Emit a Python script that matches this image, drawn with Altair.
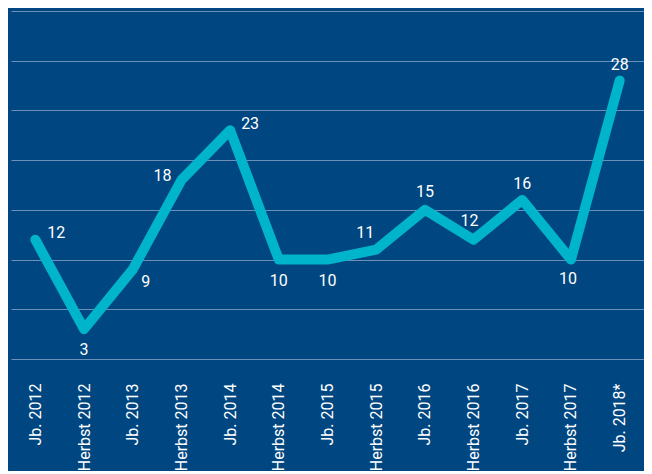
import altair as alt
import pandas as pd

# Data
periods = ["Jb. 2012", "Herbst 2012", "Jb. 2013", "Herbst 2013", "Jb. 2014",
           "Herbst 2014", "Jb. 2015", "Herbst 2015", "Jb. 2016", "Herbst 2016",
           "Jb. 2017", "Herbst 2017", "Jb. 2018*"]
values = [12, 3, 9, 18, 23, 10, 10, 11, 15, 12, 16, 10, 28]

df = pd.DataFrame({"period": periods, "value": values})

# Styling: label offsets (dx, dy) per period
label_offsets = {
    "Jb. 2012": (21, -7), "Herbst 2012": (0, 21), "Jb. 2013": (13, 12),
    "Herbst 2013": (-19, -4), "Jb. 2014": (20, -6), "Herbst 2014": (0, 21),
    "Jb. 2015": (0, 21), "Herbst 2015": (-11, -17), "Jb. 2016": (0, -18),
    "Herbst 2016": (-4, -19), "Jb. 2017": (0, -16), "Herbst 2017": (-3, 19),
    "Jb. 2018*": (0, -16),
}

BG = "#004680"
LINE = "#00B4CC"
GRID = "#6d8fb8"

x = alt.X("period:N", sort=periods, title=None,
          axis=alt.Axis(labelAngle=-90, labelColor="white", labelFont="Roboto",
                        labelFontSize=16, labelPadding=24, domain=False,
                        ticks=False, grid=False, labelLimit=200))
y = alt.Y("value:Q", title=None,
          scale=alt.Scale(domain=[0, 35], nice=False),
          axis=alt.Axis(values=[0, 5, 10, 15, 20, 25, 30, 35], labels=False,
                        ticks=False, domain=False, grid=True, gridColor=GRID,
                        gridWidth=1.2, gridOpacity=1))

base = alt.Chart(df)
line = base.mark_line(color=LINE, strokeWidth=10, strokeCap="round",
                      strokeJoin="round").encode(x=x, y=y)

layers = [line]
groups = {}
for p, off in label_offsets.items():
    groups.setdefault(off, []).append(p)
for (dx, dy), plist in groups.items():
    layers.append(
        base.mark_text(color="white", font="Roboto", fontSize=16, dx=dx, dy=dy)
        .encode(x=alt.X("period:N", sort=periods), y=alt.Y("value:Q"),
                text="value:Q")
        .transform_filter(alt.FieldOneOfPredicate(field="period", oneOf=plist))
    )

chart = alt.layer(*layers).properties(
    width=633, height=348,
    background=BG,
    padding={"left": 3, "top": 3, "right": 0, "bottom": 0},
).configure_view(stroke=None)

chart.save("out.html", embed_options={"renderer": "svg", "actions": False})
